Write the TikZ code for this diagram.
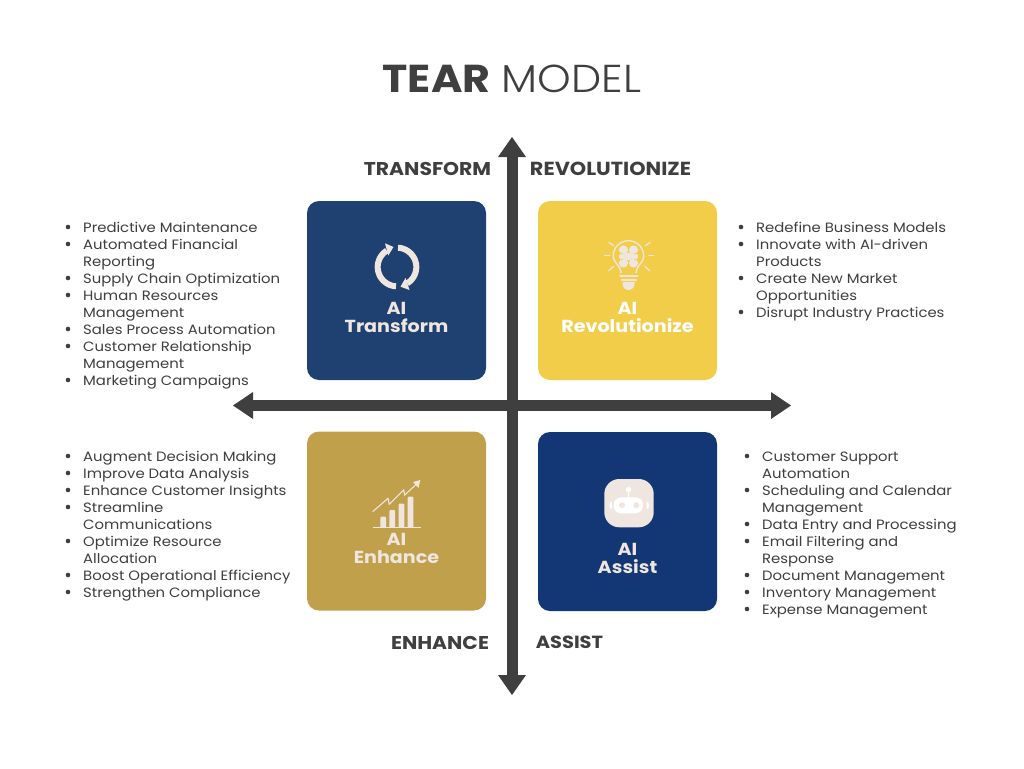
\documentclass[tikz,border=0pt]{standalone}
\usepackage{fontspec}
\setmainfont[FakeStretch=1.1]{Poppins}
\newfontfamily\lightf[FakeStretch=1.1]{Poppins Light}
\definecolor{ink}{HTML}{3F3F3F}
\definecolor{cream}{HTML}{EEE6DF}
\definecolor{cT}{HTML}{1F4172}
\definecolor{cR}{HTML}{F2CD49}
\definecolor{cE}{HTML}{C0A04A}
\definecolor{cA}{HTML}{133674}
\tikzset{
 quad/.style={draw=none,minimum width=179pt,minimum height=179pt,rounded corners=12pt,inner sep=0pt},
 axis/.style={ink,line width=11pt},
 tip/.style={fill=ink,draw=none},
 corner/.style={font=\fontsize{18.5}{22}\selectfont\bfseries,text=ink,inner sep=0pt},
 qlabel/.style={font=\fontsize{17.4}{18.8}\selectfont\bfseries,align=center,inner sep=0pt},
 bl/.style={font=\fontsize{13.5}{17}\selectfont,text=ink,align=left,anchor=west,inner sep=0pt},
 dot/.style={circle,fill=ink,minimum size=4.6pt,inner sep=0pt},
 iconline/.style={cream,line width=1.6pt,line cap=round},
}
\begin{document}
\begin{tikzpicture}[x=1pt,y=-1pt]
\useasboundingbox (0,0) rectangle (1024,768);
\fill[white] (0,0) rectangle (1024,768);
\node[font=\fontsize{38.9}{44}\selectfont,text=ink,inner sep=0pt] (title) at (512,79) {\textbf{TEAR} {\lightf MODEL}};
% axes
\coordinate (vtop) at (512,156); \coordinate (vbot) at (512,677);
\coordinate (hl) at (252,405.5); \coordinate (hr) at (772,405.5);
\draw[axis] (vtop) -- (vbot);
\draw[axis] (hl) -- (hr);
\fill[tip] (498,157) -- (512,137) -- (526,157) -- cycle;
\fill[tip] (498,675) -- (512,695) -- (526,675) -- cycle;
\fill[tip] (253,392) -- (233,405.5) -- (253,419) -- cycle;
\fill[tip] (771,392) -- (791,405.5) -- (771,419) -- cycle;
\node[corner] (lT) at (427.5,168.5) {TRANSFORM};
\node[corner,font=\fontsize{18.9}{22}\selectfont\bfseries] (lR) at (610.5,168.5) {REVOLUTIONIZE};
\node[corner] (lE) at (440,642.5) {ENHANCE};
\node[corner,font=\fontsize{17.6}{22}\selectfont\bfseries] (lA) at (569.5,642.5) {ASSIST};
% quadrants
\node[quad,fill=cT] (qT) at (396.5,290.5) {};
\node[quad,fill=cR] (qR) at (627.5,290.5) {};
\node[quad,fill=cE] (qE) at (396.5,521) {};
\node[quad,fill=cA] (qA) at (627.5,521.5) {};
\node[qlabel,text=cream] (tT) at (396.5,317.5) {AI\\Transform};
\node[qlabel,text=white] (tR) at (627.5,317.5) {AI\\Revolutionize};
\node[qlabel,text=cream] (tE) at (396.5,548.5) {AI\\Enhance};
\node[qlabel,text=cream] (tA) at (627.5,558.5) {AI\\Assist};
% icon: cycle
\draw[cream,line width=6pt] plot[domain=93:238,samples=40] ({397+19.3*cos(\x)},{267+19.3*sin(\x)});
\draw[cream,line width=6pt] plot[domain=273:418,samples=40] ({397+19.3*cos(\x)},{267+19.3*sin(\x)});
\fill[cream] (385,243.3) -- (393.5,247) -- (388.3,255.5) -- cycle;
\fill[cream] (409.5,290) -- (400.5,286.7) -- (405.5,278) -- cycle;
% icon: bulb
\draw[cream,line width=1.4pt,line join=round] (621,273) .. controls (620,264) and (613.2,263) .. (613.2,256) arc[start angle=180,end angle=360,radius=15.3] .. controls (643.8,263) and (637,264) .. (636,273);
\draw[iconline,line width=2pt] (620,275.7) -- (637.5,275.7);
\draw[iconline,line width=2pt] (621.5,279.7) -- (636,279.7);
\fill[cream] (622.5,282) -- (634.5,282) -- (634.5,284) arc[start angle=0,end angle=180,radius=6] -- cycle;
\foreach \a/\b/\c/\d in {604.3/255.7/609.7/255.7, 648.7/255.7/653.7/255.7, 608.7/242.3/613.7/245.7, 645.3/245.7/650.3/242.3, 608.7/270.7/613.7/266.3, 644.7/266.3/649.7/270.7}
  \draw[iconline,line width=1.2pt] (\a,\b) -- (\c,\d);
\foreach \p/\q/\r in {-5/-6.5/4.6, 5/-6.5/4.6, -5/6.5/4.6, 5/6.5/4.6, -6/0/3.6, 6/0/3.6, 0/0/4}
  \fill[cream] (628.5+\p,256.5+\q) circle[radius=\r];
\draw[cR,line width=.7pt] (628.5,245) -- (628.5,250);
\draw[cR,line width=.7pt] (628.5,263) -- (628.5,268);
\draw[cR,line width=.7pt] (618,252.5) -- (623,254);
\draw[cR,line width=.7pt] (639,252.5) -- (634,254);
\draw[cR,line width=.7pt] (618,260.5) -- (623,259);
\draw[cR,line width=.7pt] (639,260.5) -- (634,259);
% icon: chart
\draw[cream,line width=1.2pt] (372.7,527.7) -- (421,527.7);
\foreach \a/\b/\t in {380.3/386.2/516.7, 389.3/395.2/510, 398.5/404.3/503.7, 407.6/413.4/496.7}
  \fill[cream,rounded corners=1pt] (\a,527.7) -- (\a,\t) -- (\b,\t) -- (\b,527.7) -- cycle;
\draw[cream,line width=1.1pt,line join=miter] (372.7,511.7) -- (388,498.3) -- (389.3,504.3) -- (403.7,490) -- (404.7,495) -- (416.5,484);
\fill[cream] (420.3,480) -- (413,482) -- (418.5,488) -- cycle;
% icon: robot
\fill[cream,rounded corners=15pt] (604.3,479) rectangle (653.7,527.3);
\fill[white,rounded corners=7.5pt] (613.7,497.3) rectangle (643,513.3);
\fill[cream] (622,505.2) circle[radius=3] (636.3,505.2) circle[radius=3];
\draw[white,line width=1.4pt] (628.5,490) -- (628.5,497.5);
\fill[white] (628.5,489.7) circle[radius=2.7];
\fill[white] (612,501.3) .. controls (608.5,502) and (608.5,508.5) .. (612,509.3) -- cycle;
\fill[white] (646.5,501.3) .. controls (650,502) and (650,508.5) .. (646.5,509.3) -- cycle;
% lists
\node[bl] (lst1) at (83,305.5) {Predictive Maintenance\\Automated Financial\\Reporting\\Supply Chain Optimization\\Human Resources\\Management\\Sales Process Automation\\Customer Relationship\\Management\\Marketing Campaigns};
\foreach \y in {227,244,278,295,329,346,380} \node[dot] at (68,\y) {};
\node[bl] (lst2) at (756,271.5) {Redefine Business Models\\Innovate with AI-driven\\Products\\Create New Market\\Opportunities\\Disrupt Industry Practices};
\foreach \y in {227,244,278,312} \node[dot] at (741,\y) {};
\node[bl] (lst3) at (83,526) {Augment Decision Making\\Improve Data Analysis\\Enhance Customer Insights\\Streamline\\Communications\\Optimize Resource\\Allocation\\Boost Operational Efficiency\\Strengthen Compliance};
\foreach \y in {456,473,490,507,541,575,592} \node[dot] at (68,\y) {};
\node[bl] (lst4) at (762,535) {Customer Support\\Automation\\Scheduling and Calendar\\Management\\Data Entry and Processing\\Email Filtering and\\Response\\Document Management\\Inventory Management\\Expense Management};
\foreach \y in {456,490,524,541,575,592,609} \node[dot] at (747,\y) {};
\end{tikzpicture}
\end{document}
